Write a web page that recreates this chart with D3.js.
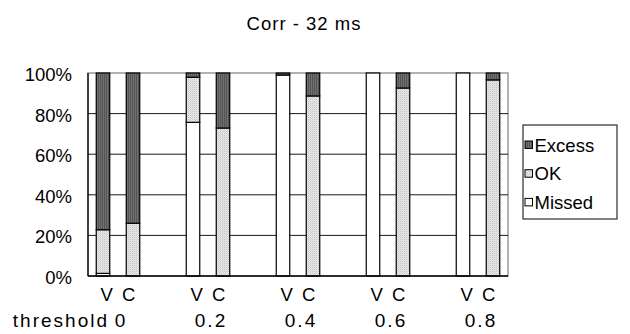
<!DOCTYPE html>
<html>
<head>
<meta charset="UTF-8">
<title>Corr - 32 ms</title>
<script src="https://cdn.jsdelivr.net/npm/d3@7"></script>
<style>
    body { margin: 0; background: #fff; }
    text { font-family: "Liberation Sans", Arial, sans-serif; fill: #000; }
</style>
</head>
<body>
<script>
    // thresholds and the two methods compared at each one
    const thresholds = ["0", "0.2", "0.4", "0.6", "0.8"];
    const methods = ["V", "C"];
    const seriesNames = ["Missed", "OK", "Excess"];

    // percentages per bar, order: V0, C0, V0.2, C0.2, ... V0.8, C0.8
    const missed = [1.3, 0, 75.7, 0, 99, 0, 100, 0, 100, 0];
    const ok = [21.5, 26, 22.2, 72.9, 0, 88.7, 0, 92.6, 0, 96.6];
    const excess = [77.2, 74, 2.1, 27.1, 1, 11.3, 0, 7.4, 0, 3.4];

    const yTicks = [0, 20, 40, 60, 80, 100];

    const width = 630, height = 334;
    const margin = {top: 73, left: 88, right: 122, bottom: 58};
    const plotW = width - margin.left - margin.right;
    const plotH = height - margin.top - margin.bottom;

    const svg = d3.select("body").append("svg")
        .attr("width", width)
        .attr("height", height);

    const defs = svg.append("defs");
    const pExcess = defs.append("pattern")
        .attr("id", "pat-excess").attr("patternUnits", "userSpaceOnUse")
        .attr("width", 2).attr("height", 2);
    pExcess.append("rect").attr("width", 2).attr("height", 2).attr("fill", "#707070");
    pExcess.append("rect").attr("width", 1).attr("height", 2).attr("fill", "#545454");

    const pOk = defs.append("pattern")
        .attr("id", "pat-ok").attr("patternUnits", "userSpaceOnUse")
        .attr("width", 2).attr("height", 2);
    pOk.append("rect").attr("width", 2).attr("height", 2).attr("fill", "#ebebeb");
    pOk.append("rect").attr("width", 1).attr("height", 1).attr("fill", "#c4c4c4");
    pOk.append("rect").attr("x", 1).attr("y", 1).attr("width", 1).attr("height", 1).attr("fill", "#d4d4d4");

    const fills = {Missed: "#ffffff", OK: "url(#pat-ok)", Excess: "url(#pat-excess)"};

    // slots: V, C, gap for every threshold (no gap after the last)
    const slots = [];
    thresholds.forEach((t, i) => {
        methods.forEach(m => slots.push(t + "|" + m));
        if (i < thresholds.length - 1) slots.push(t + "|gap");
    });

    const bars = [];
    thresholds.forEach((t, i) => {
        methods.forEach((m, j) => {
            const k = i * methods.length + j;
            bars.push({key: t + "|" + m, Missed: missed[k], OK: ok[k], Excess: excess[k]});
        });
    });

    const x = d3.scaleBand()
        .domain(slots)
        .range([0, plotW])
        .paddingInner(0.55)
        .paddingOuter(0.275);

    const y = d3.scaleLinear()
        .domain([0, 100])
        .range([plotH, 0]);

    const g = svg.append("g")
        .attr("transform", "translate(" + margin.left + "," + margin.top + ")");

    // plot frame + grid
    g.append("rect")
        .attr("width", plotW).attr("height", plotH)
        .attr("fill", "none").attr("stroke", "#8a8a8a").attr("stroke-width", 1.3);

    g.selectAll(".grid")
        .data(yTicks.filter(d => d > 0 && d < 100))
        .join("line")
        .attr("x1", 0).attr("x2", plotW)
        .attr("y1", d => y(d)).attr("y2", d => y(d))
        .attr("stroke", "#1a1a1a").attr("stroke-width", 1);

    const stack = d3.stack().keys(seriesNames)(bars);

    g.selectAll(".series")
        .data(stack)
        .join("g")
        .attr("fill", d => fills[d.key])
        .selectAll("rect")
        .data(d => d.filter(p => p[1] - p[0] > 0))
        .join("rect")
        .attr("x", d => x(d.data.key))
        .attr("width", x.bandwidth())
        .attr("y", d => y(d[1]))
        .attr("height", d => y(d[0]) - y(d[1]))
        .attr("stroke", "#000")
        .attr("stroke-width", 1.2);

    // axes
    g.append("line")
        .attr("x1", 0).attr("x2", 0).attr("y1", 0).attr("y2", plotH)
        .attr("stroke", "#000").attr("stroke-width", 1.3);
    g.append("line")
        .attr("x1", 0).attr("x2", plotW).attr("y1", plotH).attr("y2", plotH)
        .attr("stroke", "#000").attr("stroke-width", 1.3);

    g.selectAll(".ylab")
        .data(yTicks)
        .join("text")
        .attr("x", -16)
        .attr("y", d => y(d) + 8)
        .attr("text-anchor", "end")
        .style("font-size", "18.5px")
        .text(d => d + "%");

    // group labels below the bars
    const mid = t => (x(t + "|V") + x(t + "|C") + x.bandwidth()) / 2;

    g.selectAll(".vc")
        .data(thresholds)
        .join("text")
        .attr("x", d => mid(d) + 1)
        .attr("y", plotH + 24.5)
        .attr("text-anchor", "middle")
        .attr("xml:space", "preserve")
        .style("font-size", "18.5px")
        .style("letter-spacing", "2px")
        .text(methods.join(" "));

    g.selectAll(".tlab")
        .data(thresholds)
        .join("text")
        .attr("x", d => mid(d) + 3)
        .attr("y", plotH + 50.5)
        .attr("text-anchor", "middle")
        .style("font-size", "19px")
        .style("letter-spacing", "2px")
        .text(d => d);

    g.append("text")
        .attr("x", mid(thresholds[0]) - 9)
        .attr("y", plotH + 50.5)
        .attr("text-anchor", "end")
        .style("font-size", "19px")
        .style("letter-spacing", "2px")
        .text("threshold");

    // title
    svg.append("text")
        .attr("x", 304)
        .attr("y", 30)
        .attr("text-anchor", "middle")
        .style("font-size", "18.5px")
        .style("letter-spacing", "1px")
        .text("Corr - 32 ms");

    // legend
    const lg = svg.append("g").attr("transform", "translate(523,125)");
    lg.append("rect")
        .attr("width", 94).attr("height", 94)
        .attr("fill", "#fff").attr("stroke", "#000").attr("stroke-width", 1);

    const items = seriesNames.slice().reverse();
    const li = lg.selectAll(".item")
        .data(items)
        .join("g")
        .attr("transform", (d, i) => "translate(0," + (i * 28.7) + ")");
    li.append("rect")
        .attr("x", 2).attr("y", 16)
        .attr("width", 7.5).attr("height", 7.5)
        .attr("fill", d => fills[d])
        .attr("stroke", "#000").attr("stroke-width", 1);
    li.append("text")
        .attr("x", 11.5)
        .attr("y", 26.5)
        .style("font-size", "18.5px")
        .text(d => d);
</script>
</body>
</html>
